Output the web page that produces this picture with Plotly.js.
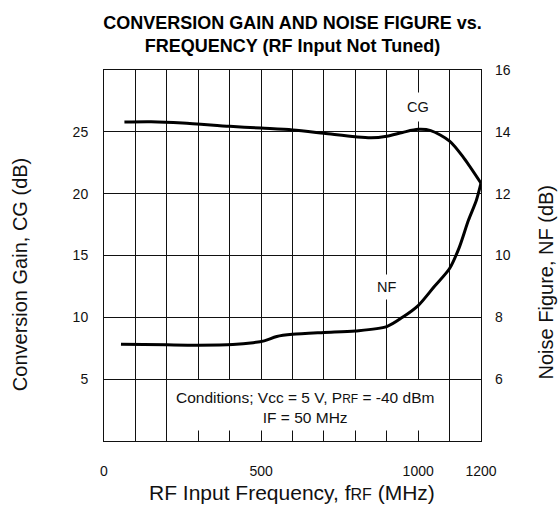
<!DOCTYPE html>
<html>
<head>
<meta charset="utf-8">
<script src="https://cdn.plot.ly/plotly-3.0.1.min.js"></script>
<style>html,body{margin:0;padding:0;background:#fff;}#chart{width:558px;height:507px;}</style>
</head>
<body>
<div id="chart"></div>
<script>
// Conversion gain curve (left axis, dB)
const freqCG = [65, 150, 250, 400, 500, 600, 700, 800, 850, 900, 950, 1000, 1040, 1100, 1145, 1200];
const cgValues = [25.8, 25.82, 25.72, 25.45, 25.3, 25.15, 24.88, 24.6, 24.52, 24.65, 24.95, 25.2, 25.1, 24.25, 22.9, 20.85];
// Noise figure curve (right axis, dB)
const freqNF = [54, 200, 300, 410, 475, 510, 550, 600, 700, 800, 900, 950, 1000, 1050, 1100, 1130, 1160, 1185, 1200];
const nfValues = [7.13, 7.11, 7.10, 7.12, 7.18, 7.24, 7.38, 7.45, 7.51, 7.56, 7.70, 8.0, 8.38, 8.98, 9.58, 10.24, 11.14, 11.78, 12.34];
// Tick labels
const xTicks = [0, 500, 1000, 1200];
const cgTicks = [5, 10, 15, 20, 25];
const nfTicks = [6, 8, 10, 12, 14, 16];

const FONT = '"Liberation Sans", Arial, sans-serif';

const traces = [
  {x: freqCG, y: cgValues, type: 'scatter', mode: 'lines', yaxis: 'y',
   line: {color: '#000', width: 3, shape: 'spline', smoothing: 0.8}, hoverinfo: 'skip'},
  {x: freqNF, y: nfValues, type: 'scatter', mode: 'lines', yaxis: 'y2',
   line: {color: '#000', width: 3, shape: 'spline', smoothing: 0.8}, hoverinfo: 'skip'}
];

const layout = {
  width: 558, height: 507,
  margin: {l: 104, r: 77, t: 70, b: 66},
  paper_bgcolor: '#fff', plot_bgcolor: '#fff',
  showlegend: false,
  font: {family: FONT, color: '#111', size: 14},
  title: {
    text: '<b>CONVERSION GAIN AND NOISE FIGURE vs.<br>FREQUENCY (RF Input Not Tuned)</b>',
    font: {family: FONT, size: 18, color: '#000'},
    x: 0.5, xref: 'paper', y: 0.943, yref: 'container', yanchor: 'top'
  },
  xaxis: {
    range: [0, 1200], tickvals: xTicks, ticktext: xTicks.map(String),
    showgrid: true, gridcolor: '#111', gridwidth: 1,
    ticks: 'inside', ticklen: 10, tickcolor: '#111', tickwidth: 1,
    minor: {dtick: 100, tick0: 0, showgrid: true, gridcolor: '#111', gridwidth: 1,
            ticks: 'inside', ticklen: 10, tickcolor: '#111', tickwidth: 1},
    showline: true, mirror: true, linecolor: '#111', linewidth: 1,
    zeroline: false, fixedrange: true,
    tickfont: {family: FONT, size: 14, color: '#111'},
    ticklabelstandoff: 17
  },
  yaxis: {
    range: [0, 30], tickvals: cgTicks,
    showgrid: true, gridcolor: '#111', gridwidth: 1,
    ticks: '', showline: true, mirror: true, linecolor: '#111', linewidth: 1,
    zeroline: false, fixedrange: true,
    tickfont: {family: FONT, size: 14, color: '#111'},
    ticklabelstandoff: 12
  },
  yaxis2: {
    range: [4, 16], tickvals: nfTicks, overlaying: 'y', side: 'right',
    showgrid: false, ticks: '', showline: false, zeroline: false, fixedrange: true,
    tickfont: {family: FONT, size: 14, color: '#111'},
    ticklabelstandoff: 13
  },
  shapes: [
    {type: 'rect', xref: 'x', yref: 'y', x0: 203, x1: 1097, y0: 0.85, y1: 4.93,
     fillcolor: '#fff', line: {width: 0}, layer: 'between'}
  ],
  annotations: [
    {text: 'Conversion Gain, CG (dB)', xref: 'paper', yref: 'paper', x: -0.2228, y: 0.447,
     xanchor: 'center', yanchor: 'middle',
     textangle: -90, showarrow: false, font: {family: FONT, size: 20, color: '#111'}},
    {text: 'Noise Figure, NF (dB)', xref: 'paper', yref: 'paper', x: 1.1724, y: 0.43,
     xanchor: 'center', yanchor: 'middle',
     textangle: -90, showarrow: false, font: {family: FONT, size: 20, color: '#111'}},
    {text: 'RF Input Frequency, f<span style="font-size:16px">RF</span> (MHz)', xref: 'paper', yref: 'paper',
     x: 0.4987, y: -0.14, xanchor: 'center', yanchor: 'middle',
     showarrow: false, font: {family: FONT, size: 21, color: '#111'}},
    {text: 'Conditions; Vcc = 5 V, P<span style="font-size:12px">RF</span> = -40 dBm<br>IF = 50 MHz',
     xref: 'x', yref: 'y', x: 640, y: 2.74, xanchor: 'center', yanchor: 'middle', showarrow: false,
     font: {family: FONT, size: 15.5, color: '#111'}},
    {text: 'CG', xref: 'x', yref: 'y', x: 1000, y: 27, showarrow: false, bgcolor: '#fff', borderpad: 6,
     xanchor: 'center', yanchor: 'middle',
     font: {family: FONT, size: 14.5, color: '#111'}},
    {text: 'NF', xref: 'x', yref: 'y', x: 900, y: 12.44, showarrow: false, bgcolor: '#fff', borderpad: 4,
     xanchor: 'center', yanchor: 'middle',
     font: {family: FONT, size: 14.5, color: '#111'}}
  ]
};

Plotly.newPlot('chart', traces, layout, {staticPlot: true, displayModeBar: false});
</script>
</body>
</html>
